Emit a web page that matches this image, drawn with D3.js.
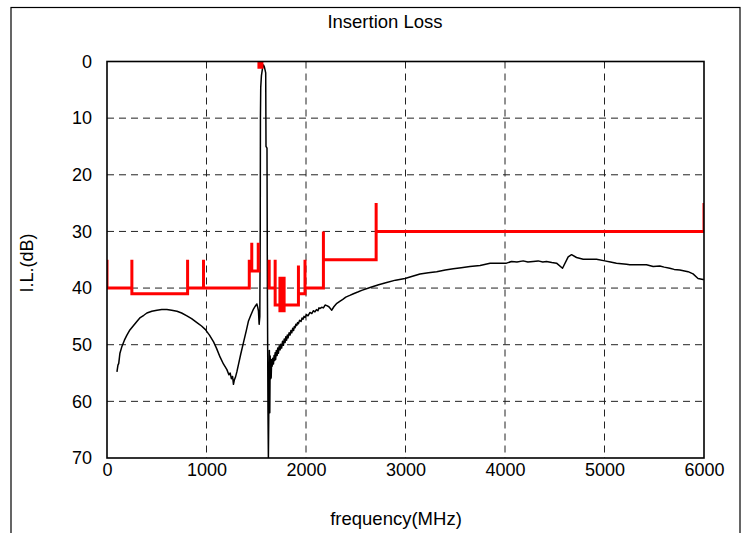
<!DOCTYPE html>
<html>
<head>
<meta charset="utf-8">
<script src="https://cdn.jsdelivr.net/npm/d3@7"></script>
<style>
  html, body { margin: 0; padding: 0; background: #fff; }
  svg { display: block; font-family: "Liberation Sans", Arial, sans-serif; }
</style>
</head>
<body>
<svg id="chart" width="746" height="533"></svg>
<script>
// ---- data ----
const title = "Insertion Loss";
const xLabel = "frequency(MHz)";
const yLabel = "I.L.(dB)";
const xTicks = [0, 1000, 2000, 3000, 4000, 5000, 6000];
const yTicks = [0, 10, 20, 30, 40, 50, 60, 70];

// measured insertion loss (MHz, dB)
const ilFreq = [100,110,118,130,150,175,200,230,267,300,334,370,401,450,502,550,602,650,703,750,803,850,904,950,987,1030,1071,1100,1137,1170,1205,1225,1238,1250,1262,1271,1280,1290,1305,1321,1345,1372,1400,1422,1445,1472,1490,1506,1515,1522,1529,1536,1540,1542,1545,1552,1562,1572,1582,1595,1598,1608,1612,1618,1622,1628,1632,1636,1640,1645,1650,
  1655,1660,1666,1673,1679,1685,1690,1695,1702,1710,1716,1723,1731,1740,1747,1755,1764,1773,1781,1790,1797,1805,1812,1820,1830,1840,1848,1857,1866,1875,1882,1890,1898,1907,1915,1924,1935,1950,1960,1970,1980,1991,2005,2020,2040,2058,2075,2090,2105,2120,2130,2142,2158,2175,2192,2209,
  2230,2259,2280,2310,2343,2370,2400,2440,2477,2520,2560,2644,2730,2811,2900,2995,3070,3146,3230,3313,3400,3480,3560,3648,3750,3850,3950,4015,4066,4120,4183,4230,4283,4333,4380,4417,4470,4518,4578,4635,4669,4719,4786,4850,4920,5003,5060,5120,5221,5254,5340,5422,5489,5556,5600,5656,5700,5757,5840,5890,5940,5990,6000];
const ilDb = [54.8,53.6,53.3,51.5,50.3,49.2,48.3,47.4,46.6,45.9,45.2,44.8,44.4,44.1,43.9,43.8,43.8,43.9,44.1,44.4,44.9,45.4,46.1,46.7,47.3,48.3,49.5,50.6,52.2,53.4,54.4,55.3,55.0,56.0,55.6,57.0,56.2,55.8,54.8,53.5,51.6,49.6,47.5,45.8,44.8,43.7,43.2,42.8,43.4,44.0,46.4,45.0,30,10,4.6,2.5,1.3,0.6,1.0,2.0,15.0,15.3,40,62,70,58,51,62,52,56,55.8,
  52.6,53.8,52.4,53.4,51.9,52.8,51.4,52.6,51.0,51.9,50.6,51.5,50.2,50.9,49.9,50.6,49.4,50.1,49.0,49.6,48.6,49.2,48.3,48.8,47.9,48.3,47.5,47.9,47.1,47.5,46.8,47.0,46.4,46.6,46.1,46.3,45.7,45.9,45.3,45.5,45.0,45.2,44.7,44.9,44.3,44.5,44.0,44.2,43.8,44.0,43.5,43.6,43.4,43.5,43.0,43.1,
  43.3,43.9,43.3,42.7,42.3,42.0,41.6,41.3,41.0,40.7,40.4,39.9,39.4,39.0,38.6,38.3,37.9,37.5,37.3,37.1,36.8,36.6,36.4,36.2,36.0,35.6,35.6,35.6,35.3,35.4,35.2,35.4,35.3,35.2,35.4,35.3,35.5,35.6,36.5,34.5,34.1,34.6,34.9,34.9,34.9,35.2,35.4,35.6,35.8,35.9,35.9,35.9,36.2,36.1,36.3,36.5,36.7,36.8,37.1,37.5,38.3,38.5,38.5];

// specification mask, lower band (MHz, dB)
const maskLowFreq = [0,0,250,250,250,810,810,810,970,970,970,1430,1430,1430,1455,1455,1455,1520,1520,1520,1540];
const maskLowDb   = [35,40,40,35,41,41,35,40,40,35,40,40,35,37,37,32,37,37,32,37,37];
// specification mask, upper band (MHz, dB)
const maskHighFreq = [1630,1630,1690,1690,1690,1738,1738,1738,1752,1752,1752,1766,1766,1766,1780,1780,1780,1924,1924,1924,1990,1990,1990,2175,2175,2175,2705,2705,2705,6000,6000];
const maskHighDb   = [35,40,40,35,43,43,38,44,44,38,44,44,38,44,44,38,43,43,36,41,41,35,40,40,30,35,35,25,30,30,25];
// passband mask (MHz, dB)
const maskPassFreq = [1522,1522,1562,1562];
const maskPassDb   = [0,1.1,1.1,0];

// ---- layout ----
const svg = d3.select("#chart");
const plot = { left: 107, right: 704, top: 61.5, bottom: 458 };

const x = d3.scaleLinear().domain([0, 6000]).range([plot.left, plot.right]);
const y = d3.scaleLinear().domain([0, 70]).range([plot.top, plot.bottom]);

// outer frame
svg.append("rect")
  .attr("x", 11).attr("y", 7.5).attr("width", 729).attr("height", 540)
  .attr("fill", "none").attr("stroke", "#000").attr("stroke-width", 1.2);

// clip
svg.append("defs").append("clipPath").attr("id", "clip")
  .append("rect").attr("x", plot.left).attr("y", plot.top - 2)
  .attr("width", plot.right - plot.left).attr("height", plot.bottom - plot.top + 2);

// grid
const grid = svg.append("g");
grid.selectAll("line.vg").data(xTicks.slice(1, -1)).join("line")
  .attr("x1", d => x(d)).attr("x2", d => x(d))
  .attr("y1", plot.top).attr("y2", plot.bottom)
  .attr("stroke", "#222").attr("stroke-width", 1).attr("stroke-dasharray", "7,5");
grid.selectAll("line.hg").data(yTicks.slice(1, -1)).join("line")
  .attr("x1", plot.left).attr("x2", plot.right)
  .attr("y1", d => y(d)).attr("y2", d => y(d))
  .attr("stroke", "#222").attr("stroke-width", 1).attr("stroke-dasharray", "7,5");

// axes (labels only, via d3 axis)
const xAxis = d3.axisBottom(x).tickValues(xTicks).tickSize(0).tickPadding(5).tickFormat(d3.format("d"));
const yAxis = d3.axisLeft(y).tickValues(yTicks).tickSize(0).tickPadding(15).tickFormat(d3.format("d"));
const gx = svg.append("g").attr("transform", `translate(0,${plot.bottom})`).call(xAxis);
const gy = svg.append("g").attr("transform", `translate(${plot.left},0)`).call(yAxis);
[gx, gy].forEach(g => {
  g.select(".domain").remove();
  g.selectAll("text").attr("font-size", 18).attr("fill", "#000")
    .attr("font-family", "Liberation Sans, Arial, sans-serif");
});

// lines
const lineGen = d3.line().x(d => x(d[0])).y(d => y(d[1]));
const zip = (a, b) => a.map((v, i) => [v, b[i]]);
const marks = svg.append("g").attr("clip-path", "url(#clip)");

marks.append("path").datum(zip(ilFreq, ilDb))
  .attr("d", lineGen).attr("fill", "none").attr("stroke", "#000")
  .attr("stroke-width", 1.5).attr("stroke-linejoin", "round");

[zip(maskLowFreq, maskLowDb), zip(maskHighFreq, maskHighDb)].forEach(m => {
  marks.append("path").datum(m).attr("d", lineGen)
    .attr("fill", "none").attr("stroke", "#ff0000").attr("stroke-width", 3)
    .attr("stroke-linejoin", "miter");
});
svg.append("path").datum(zip(maskPassFreq, maskPassDb)).attr("d", lineGen)
  .attr("fill", "#ff0000").attr("stroke", "#ff0000").attr("stroke-width", 2);

// plot border
svg.append("rect")
  .attr("x", plot.left).attr("y", plot.top)
  .attr("width", plot.right - plot.left).attr("height", plot.bottom - plot.top)
  .attr("fill", "none").attr("stroke", "#000").attr("stroke-width", 1.6);

// titles
svg.append("text").attr("x", 385).attr("y", 28).attr("text-anchor", "middle")
  .attr("font-size", 18.5).text(title);
svg.append("text").attr("x", 396).attr("y", 525).attr("text-anchor", "middle")
  .attr("font-size", 18.5).text(xLabel);
svg.append("text").attr("transform", "translate(33,263) rotate(-90)")
  .attr("text-anchor", "middle").attr("font-size", 18).text(yLabel);
</script>
</body>
</html>
